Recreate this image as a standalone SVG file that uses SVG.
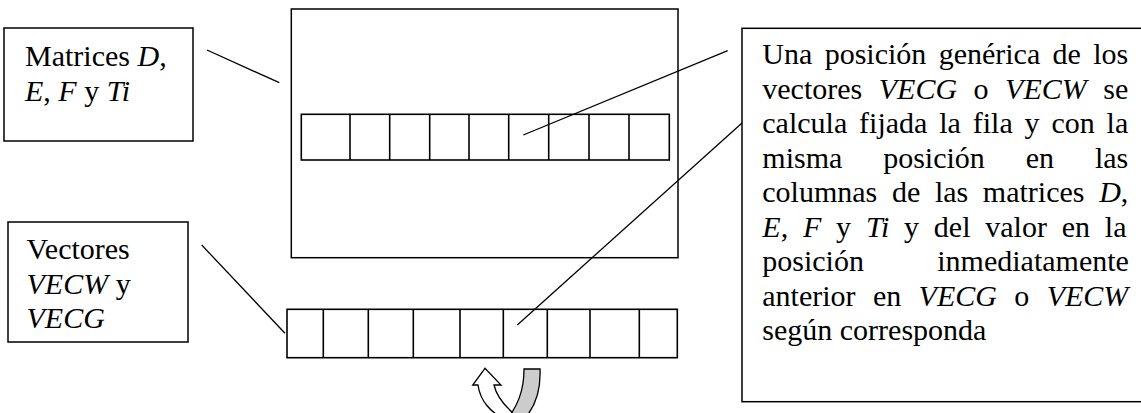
<svg xmlns="http://www.w3.org/2000/svg" width="1141" height="413" viewBox="0 0 1141 413">
<style>
.box{fill:#fff;stroke:#000;stroke-width:1.5}
.cell{fill:none;stroke:#000;stroke-width:1.6}
.ln{fill:none;stroke:#000;stroke-width:1.3}
text{font-family:"Liberation Serif","Times New Roman",serif;font-size:30px;fill:#000;font-variant-ligatures:none}
.i{font-style:italic}
</style>
<rect width="1141" height="413" fill="#fff"/>
<g id="matrices-label">
<rect class="box" x="4" y="28" width="189" height="113"/>
<text x="25" y="66">Matrices <tspan class="i">D</tspan>,</text>
<text x="25" y="100.5"><tspan class="i">E</tspan>, <tspan class="i">F</tspan> y <tspan class="i">Ti</tspan></text>
</g>
<g id="vectores-label">
<rect class="box" x="8" y="222" width="180" height="120"/>
<text x="26.5" y="259">Vectores</text>
<text x="26.5" y="293.5"><tspan class="i">VECW</tspan> y</text>
<text x="26.5" y="328"><tspan class="i">VECG</tspan></text>
</g>
<g id="matrix">
<rect class="box" x="291.3" y="9" width="386.7" height="248.7" stroke-width="2"/>
<g id="matrix-row">
<rect class="cell" x="301.3" y="114.3" width="368" height="45.7"/>
<path class="cell" d="M350,114.3V160M389.7,114.3V160M429.7,114.3V160M469,114.3V160M508.7,114.3V160M548.7,114.3V160M589,114.3V160M629,114.3V160"/>
</g>
</g>
<g id="vector-row">
<rect class="cell" x="287" y="309.3" width="390.3" height="48.4"/>
<path class="cell" d="M323.3,309.3V357.7M368.3,309.3V357.7M413.3,309.3V357.7M460,309.3V357.7M503.3,309.3V357.7M547.3,309.3V357.7M590,309.3V357.7M639.3,309.3V357.7"/>
</g>
<g id="description">
<rect class="box" x="742" y="28.3" width="410" height="373.4"/>
<text x="762.3" y="64.3" word-spacing="4.85">Una posición genérica de los</text>
<text x="762.3" y="98.8" word-spacing="9">vectores <tspan class="i">VECG</tspan> o <tspan class="i">VECW</tspan> se</text>
<text x="762.3" y="133.3" word-spacing="4.35">calcula fijada la fila y con la</text>
<text x="762.3" y="167.8" word-spacing="33.4">misma posición en las</text>
<text x="762.3" y="202.3" word-spacing="7.15">columnas de las matrices <tspan class="i">D</tspan>,</text>
<text x="762.3" y="236.8" word-spacing="7.3"><tspan class="i">E</tspan>, <tspan class="i">F</tspan> y <tspan class="i">Ti</tspan> y del valor en la</text>
<text x="762.3" y="271.3" word-spacing="65.8">posición inmediatamente</text>
<text x="762.3" y="305.8" word-spacing="9.85">anterior en <tspan class="i">VECG</tspan> o <tspan class="i">VECW</tspan></text>
<text x="762.3" y="340.3">según corresponda</text>
</g>
<g id="connectors">
<line class="ln" x1="207" y1="50" x2="279.3" y2="82.7"/>
<line class="ln" x1="727.7" y1="50.7" x2="523.3" y2="135"/>
<line class="ln" x1="742" y1="123" x2="517.3" y2="325"/>
<line class="ln" x1="201.7" y1="245" x2="285" y2="333.3"/>
</g>
<g id="u-turn-arrow" stroke="#000" stroke-width="1.3" stroke-linejoin="miter">
<path fill="#fff" d="M478,385 C480,400 490,413 507,420 L522,420 C508,410 497,398 494,385 L501,385 L485,368.3 L472.7,385 Z"/>
<path fill="#cccccc" d="M524,369 L540,369 C541,392 535,408 523,420 L507,420 C517,406 524,392 524,369 Z"/>
</g>
</svg>
